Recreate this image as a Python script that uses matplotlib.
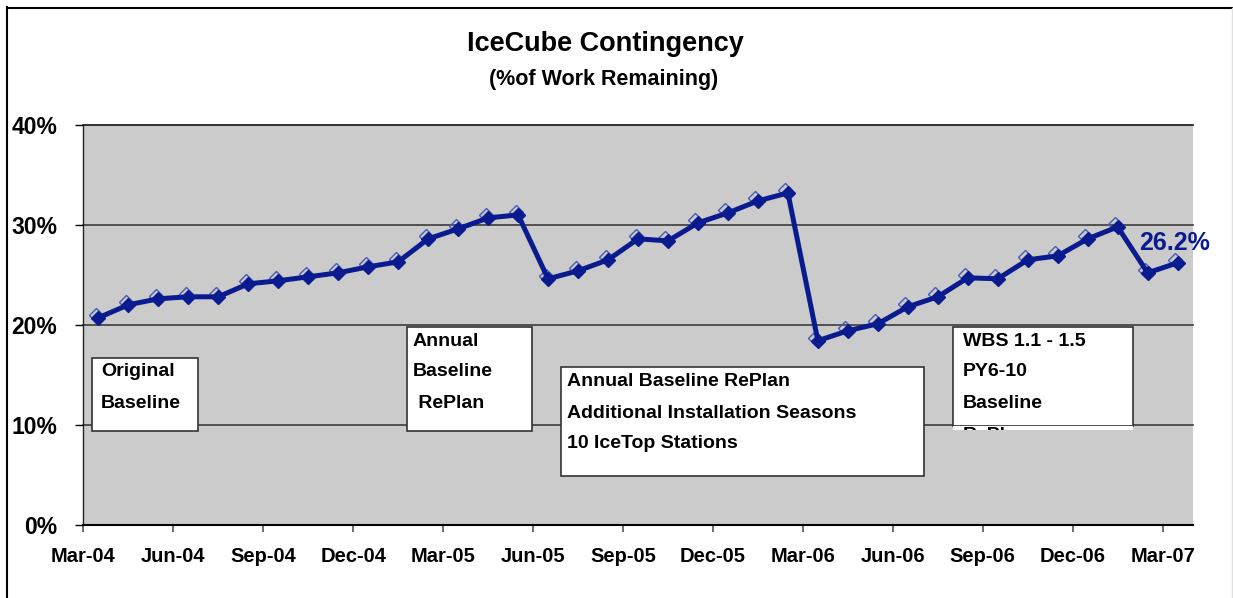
import matplotlib
matplotlib.use("Agg")
import matplotlib.pyplot as plt
from matplotlib.patches import Rectangle
import matplotlib.transforms as mtransforms
from matplotlib.lines import Line2D

plt.rcParams['font.family'] = ['Liberation Sans', 'DejaVu Sans']

# ---- data ----
months = ["Mar-04", "Apr-04", "May-04", "Jun-04", "Jul-04", "Aug-04", "Sep-04", "Oct-04",
          "Nov-04", "Dec-04", "Jan-05", "Feb-05", "Mar-05", "Apr-05", "May-05", "Jun-05",
          "Jul-05", "Aug-05", "Sep-05", "Oct-05", "Nov-05", "Dec-05", "Jan-06", "Feb-06",
          "Mar-06", "Apr-06", "May-06", "Jun-06", "Jul-06", "Aug-06", "Sep-06", "Oct-06",
          "Nov-06", "Dec-06", "Jan-07", "Feb-07", "Mar-07"]
contingency = [20.7, 22.0, 22.6, 22.8, 22.8, 24.1, 24.4, 24.8, 25.2, 25.8, 26.3,
               28.6, 29.6, 30.7, 31.0, 24.6, 25.4, 26.5, 28.6, 28.4, 30.2, 31.2,
               32.4, 33.2, 18.4, 19.4, 20.1, 21.8, 22.8, 24.7, 24.6, 26.5, 26.9,
               28.6, 29.8, 25.2, 26.2]
tick_labels = ["Mar-04", "Jun-04", "Sep-04", "Dec-04", "Mar-05", "Jun-05", "Sep-05",
               "Dec-05", "Mar-06", "Jun-06", "Sep-06", "Dec-06", "Mar-07"]
y_ticks = [0, 10, 20, 30, 40]
y_tick_labels = ["0%", "10%", "20%", "30%", "40%"]
last_label = "26.2%"
title = "IceCube Contingency"
subtitle = "(%of Work Remaining)"
notes = [
    (["Original", "Baseline"], (92, 358, 198, 431), 101, [372, 403]),
    (["Annual", "Baseline", " RePlan"], (407, 327, 532, 431), 413, [341.5, 372, 403]),
    (["Annual Baseline RePlan", "Additional Installation Seasons", "10 IceTop Stations"],
     (561, 367, 924, 476), 567, [382, 413, 443]),
    (["WBS 1.1 - 1.5", "PY6-10", "Baseline"], (953, 327, 1133, 426), 963, [341.5, 372, 403]),
]

W, H = 1233, 598
fig = plt.figure(figsize=(W / 100, H / 100), dpi=100)

def fx(px):
    return px / W

def fy(py):
    return 1 - py / H

# figure frame
fig.add_artist(Line2D([fx(7), fx(7)], [0, fy(7)], color='black', lw=1.5))
fig.add_artist(Line2D([fx(7), 1], [fy(7.5), fy(7.5)], color='black', lw=1.5))
fig.add_artist(Line2D([fx(1232), fx(1232)], [0, fy(8)], color='#e0e0e0', lw=1))

left, right, top, bottom = 83.4, 1192.6, 125, 524.5
ax = fig.add_axes([fx(left), fy(bottom), fx(right - left), (bottom - top) / H])
ax.set_facecolor('#cbcbcb')

xs = [i + 0.5 for i in range(len(contingency))]
line_color = '#0a1a8f'

# shadow hollow diamonds
shadow = mtransforms.offset_copy(ax.transData, fig=fig, x=-2.5, y=3, units='dots')
ax.plot(xs, contingency, linestyle='none', marker='D', markersize=6.8,
        markerfacecolor='none', markeredgecolor='#4a5ab8', markeredgewidth=1.0,
        transform=shadow, zorder=3)
ax.plot(xs, contingency, color=line_color, lw=3.6, marker='D', markersize=6.8,
        markerfacecolor=line_color, markeredgecolor=line_color, zorder=4)

ax.set_xlim(0, 37)
ax.set_ylim(0, 40)

for yv in y_ticks[1:]:
    ax.axhline(yv, color='#3c3c3c' if yv < 40 else '#111111', lw=1.2, zorder=1, clip_on=False)

ax.set_yticks(y_ticks)
ax.set_yticklabels(y_tick_labels, fontsize=16.5, fontweight='bold')
ax.set_xticks(list(range(0, 37, 3)))
ax.set_xticklabels(tick_labels, fontsize=14.5, fontweight='bold')
ax.tick_params(axis='y', length=6, width=1, color='black', pad=13)
ax.tick_params(axis='x', length=5, width=1.2, color='#555555', pad=11)

for s in ['top', 'right']:
    ax.spines[s].set_visible(False)
ax.spines['left'].set_color('#222222')
ax.spines['left'].set_linewidth(1)
ax.spines['bottom'].set_color('black')
ax.spines['bottom'].set_linewidth(1.5)

ax.annotate(last_label, xy=(xs[-1], contingency[-1]), xytext=(-2, 14),
            textcoords='offset points', ha='center', va='center',
            fontsize=18, fontweight='bold', color=line_color, zorder=6,
            annotation_clip=False)

fig.text(fx(605), fy(44), title, ha='center', va='center', fontsize=19.5, fontweight='bold')
fig.text(fx(604), fy(80), subtitle, ha='center', va='center', fontsize=15.5, fontweight='bold')

for lines, (x0, y0, x1, y1), tx, ty in notes:
    rect = Rectangle((fx(x0), fy(y1)), fx(x1 - x0), (y1 - y0) / H,
                     transform=fig.transFigure, facecolor='white',
                     edgecolor='#333333', lw=1.2, zorder=5)
    fig.add_artist(rect)
    for txt, yy in zip(lines, ty):
        fig.text(fx(tx), fy(yy), txt, ha='left', va='center', fontsize=14,
                 fontweight='bold', zorder=6)

# overflowing, clipped last line of the right-hand box
clip_rect = Rectangle((fx(953), fy(430)), fx(180), 4 / H, transform=fig.transFigure,
                      facecolor='white', edgecolor='none', zorder=5)
fig.add_artist(clip_rect)
t = fig.text(fx(963), fy(435), "RePlan", ha='left', va='center', fontsize=14,
             fontweight='bold', zorder=6)
t.set_clip_path(clip_rect)

fig.savefig('out.png', dpi=100)
